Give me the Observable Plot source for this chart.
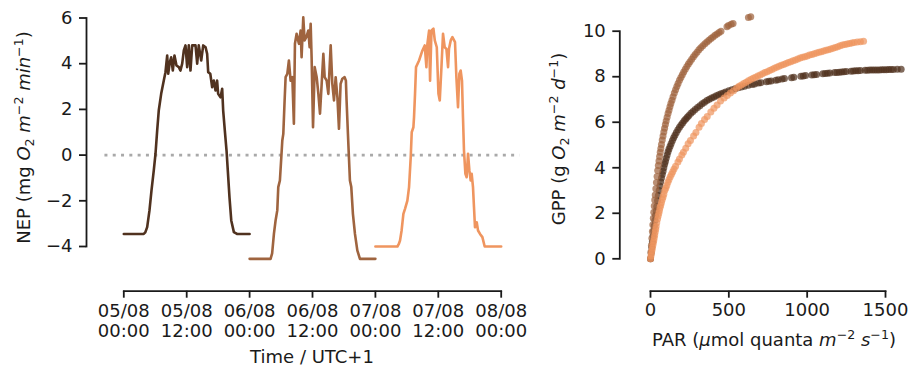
<!DOCTYPE html>
<html><head><meta charset="utf-8">
<script src="https://cdn.jsdelivr.net/npm/d3@7"></script>
<script src="https://cdn.jsdelivr.net/npm/@observablehq/plot@0.6"></script>
<style>
body{margin:0;background:#fff;}
#wrap{position:relative;width:918px;height:366px;font-family:"DejaVu Sans";}
#left{position:absolute;left:0;top:0;}
#right{position:absolute;left:530px;top:0;}
</style></head><body><div id="wrap"><div id="left"></div><div id="right"></div></div>
<script>
// ---------- data ----------
const dayStarts = ["2022-08-05T00:00Z", "2022-08-06T00:00Z", "2022-08-07T00:00Z"];
const seriesColors = ["#50321f", "#9f643f", "#ef955f"];
const timeTicks = ["2022-08-05T00:00Z","2022-08-05T12:00Z","2022-08-06T00:00Z","2022-08-06T12:00Z","2022-08-07T00:00Z","2022-08-07T12:00Z","2022-08-08T00:00Z"];
const timeTickLabels = ["05/08\n00:00","05/08\n12:00","06/08\n00:00","06/08\n12:00","07/08\n00:00","07/08\n12:00","08/08\n00:00"];
const timeLimits = ["2022-08-04T20:24Z", "2022-08-08T03:36Z"]; // axes limits (zero line span)
const nepTicks = [-4, -2, 0, 2, 4, 6];
const gppTicks = [0, 2, 4, 6, 8, 10];
const parTicks = [0, 500, 1000, 1500];

// NEP per day: [hour of day, NEP]
const nepDay1 = [[0,-3.45],[3.8,-3.45],[4.1,-3.38],[4.46,-3.15],[4.9,-2.42],[5.28,-1.55],[5.72,-0.67],[6.05,0.06],[6.37,1.08],[6.67,1.95],[7.13,2.68],[7.63,3.26],[7.95,3.63],[8.28,4.36],[8.47,3.56],[8.78,4.07],[9.04,4.28],[9.35,3.7],[9.67,4.36],[10.05,3.92],[10.5,3.85],[10.8,3.7],[11.14,4.0],[11.45,4.58],[11.77,4.8],[12.09,3.85],[12.4,4.8],[12.72,3.7],[13.05,4.8],[13.68,4.8],[14.0,4.0],[14.3,4.8],[14.77,4.14],[15.15,4.8],[15.6,4.72],[15.9,4.43],[16.1,3.63],[16.5,3.56],[16.86,2.97],[17.17,3.26],[17.5,2.83],[17.8,3.26],[18.0,2.68],[18.45,2.53],[18.77,2.9],[18.96,1.95],[19.27,1.08],[19.6,0.2],[19.84,-0.67],[20.16,-1.84],[20.5,-2.86],[21.0,-3.37],[21.6,-3.45],[24,-3.45]];
const nepDay2 = [[0,-4.54],[4.0,-4.54],[4.3,-4.3],[4.64,-3.45],[4.96,-2.86],[5.28,-2.42],[5.47,-1.4],[5.78,-1.11],[6.05,-0.09],[6.24,0.64],[6.43,0.93],[6.68,2.39],[6.87,3.41],[7.2,3.56],[7.5,4.14],[7.82,3.26],[8.15,3.41],[8.45,1.37],[8.65,4.87],[8.97,5.31],[9.41,4.87],[9.73,5.45],[9.92,4.28],[10.24,6.03],[10.49,5.02],[10.82,5.16],[11.2,5.45],[11.45,4.72],[11.65,5.75],[11.83,4.28],[12.1,1.22],[12.42,3.85],[12.8,3.41],[13.12,2.68],[13.43,1.81],[13.75,3.12],[14.07,4.43],[14.32,3.41],[14.7,3.26],[15.02,2.68],[15.47,4.8],[15.78,3.12],[16.1,2.39],[16.42,3.41],[16.75,2.53],[17.05,1.15],[17.36,3.12],[17.69,3.34],[18.13,3.41],[18.37,3.26],[18.5,2.39],[18.76,0.93],[18.95,-0.09],[19.14,-1.11],[19.4,-1.4],[19.71,-2.57],[20.1,-3.45],[20.55,-4.17],[21.05,-4.54],[24,-4.54]];
const nepDay3 = [[0,-4.0],[4.2,-4.0],[4.45,-3.9],[4.7,-3.74],[5.0,-3.3],[5.34,-2.57],[5.65,-2.35],[6.1,-1.99],[6.42,-1.4],[6.74,-0.09],[6.93,1.0],[7.25,1.22],[7.37,1.66],[7.56,2.68],[7.75,3.85],[8.33,4.14],[8.97,4.58],[9.41,4.8],[9.73,3.85],[9.92,4.87],[10.24,5.45],[10.43,3.26],[10.7,5.45],[11.07,5.53],[11.33,5.02],[11.71,4.72],[12.03,2.68],[12.28,2.39],[12.6,3.85],[12.9,5.31],[13.22,4.72],[13.55,4.65],[13.86,3.85],[14.04,4.65],[14.37,5.02],[14.69,5.16],[15.19,4.94],[15.45,3.41],[15.76,2.1],[16.02,3.56],[16.27,3.7],[16.52,3.26],[16.71,1.66],[16.9,0.2],[17.17,-0.82],[17.41,-0.97],[17.67,0.06],[17.93,-0.67],[18.18,-1.11],[18.37,-0.82],[18.62,-1.4],[18.81,-2.28],[19.0,-3.16],[19.33,-2.94],[19.58,-3.3],[19.96,-3.45],[20.41,-3.59],[20.85,-4.0],[24,-4.0]];

// GPP vs PAR: [PAR, GPP]
const gppDay1 = [[0,0],[4,0.25],[8,0.5],[12,0.75],[16,1.0],[20,1.22],[24,1.45],[28,1.68],[32,1.9],[36,2.1],[40,2.3],[45,2.55],[50,2.78],[55,3.0],[60,3.2],[65,3.38],[70,3.55],[75,3.7],[80,3.85],[85,4.0],[90,4.15],[95,4.28],[100,4.42],[106,4.56],[112,4.7],[118,4.82],[125,4.95],[132,5.07],[140,5.2],[148,5.32],[156,5.43],[165,5.55],[175,5.67],[185,5.78],[195,5.88],[205,5.97],[215,6.06],[225,6.14],[235,6.22],[245,6.3],[258,6.39],[271,6.47],[285,6.56],[300,6.65],[315,6.73],[330,6.81],[345,6.88],[360,6.95],[375,7.01],[390,7.06],[405,7.11],[420,7.16],[435,7.21],[450,7.25],[465,7.29],[480,7.33],[500,7.38],[520,7.43],[540,7.47],[560,7.51],[580,7.55],[600,7.58],[625,7.62],[650,7.66],[665,7.68],[690,7.72],[705,7.74],[740,7.78],[755,7.8],[770,7.81],[800,7.85],[815,7.87],[840,7.9],[855,7.92],[900,7.96],[915,7.98],[960,8.02],[975,8.03],[990,8.05],[1030,8.08],[1045,8.09],[1060,8.1],[1100,8.13],[1115,8.14],[1130,8.15],[1145,8.16],[1175,8.18],[1190,8.19],[1205,8.2],[1220,8.21],[1235,8.22],[1250,8.23],[1280,8.24],[1295,8.25],[1310,8.26],[1325,8.26],[1340,8.27],[1370,8.28],[1385,8.28],[1400,8.29],[1415,8.29],[1430,8.3],[1445,8.3],[1460,8.3],[1475,8.31],[1490,8.31],[1505,8.31],[1520,8.32],[1535,8.32],[1550,8.32],[1575,8.33],[1600,8.33]];
const gppDay2 = [[0,0],[3,0.3],[6,0.6],[9,0.9],[12,1.2],[15,1.5],[18,1.78],[21,2.05],[24,2.32],[27,2.58],[30,2.8],[34,3.08],[38,3.35],[42,3.62],[46,3.88],[50,4.1],[54,4.3],[58,4.5],[62,4.68],[66,4.85],[70,5.02],[75,5.22],[80,5.4],[85,5.57],[90,5.74],[95,5.9],[100,6.05],[106,6.22],[112,6.38],[118,6.53],[124,6.68],[130,6.82],[137,6.97],[144,7.12],[152,7.28],[160,7.43],[168,7.57],[176,7.7],[185,7.84],[194,7.97],[203,8.09],[212,8.21],[222,8.33],[232,8.45],[242,8.56],[252,8.66],[263,8.77],[274,8.88],[285,8.98],[297,9.08],[309,9.18],[321,9.27],[334,9.36],[347,9.45],[360,9.53],[373,9.6],[386,9.68],[399,9.75],[412,9.82],[425,9.88],[438,9.94],[450,10.0],[488,10.2],[498,10.25],[515,10.3],[527,10.34],[625,10.6],[640,10.64]];
const gppDay3 = [[0,0],[3,0.12],[6,0.24],[9,0.36],[12,0.48],[15,0.6],[18,0.7],[21,0.8],[24,0.92],[27,1.05],[30,1.18],[33,1.3],[36,1.42],[40,1.58],[45,1.75],[49,1.88],[53,2.0],[57,2.12],[61,2.25],[65,2.35],[70,2.47],[75,2.6],[80,2.72],[85,2.84],[91,3.0],[97,3.1],[104,3.22],[111,3.36],[118,3.48],[126,3.6],[134,3.72],[142,3.83],[150,3.95],[160,4.07],[175,4.25],[185,4.38],[200,4.56],[210,4.68],[225,4.86],[240,5.05],[255,5.2],[275,5.4],[290,5.55],[310,5.78],[325,5.94],[345,6.12],[362,6.25],[385,6.45],[405,6.62],[425,6.76],[447,6.93],[470,7.07],[490,7.18],[510,7.28],[530,7.38],[550,7.5],[565,7.58],[580,7.64],[595,7.7],[610,7.76],[625,7.82],[640,7.88],[655,7.93],[670,7.98],[685,8.03],[700,8.08],[715,8.13],[730,8.18],[745,8.22],[760,8.27],[775,8.32],[790,8.37],[805,8.42],[820,8.46],[835,8.5],[850,8.54],[865,8.58],[880,8.62],[895,8.66],[910,8.7],[925,8.74],[940,8.78],[955,8.82],[970,8.85],[985,8.88],[1000,8.91],[1015,8.95],[1030,8.98],[1045,9.01],[1060,9.04],[1075,9.07],[1090,9.1],[1105,9.13],[1120,9.16],[1135,9.19],[1150,9.22],[1165,9.25],[1180,9.28],[1195,9.32],[1210,9.36],[1225,9.39],[1240,9.42],[1255,9.44],[1270,9.46],[1285,9.48],[1300,9.5],[1320,9.52],[1340,9.54],[1360,9.56]];

// ---------- build ----------
const FS = 18, INK = "#1a1a1a", SPINE = 1.8;
const asDate = s => new Date(s);
const toRows = (pairs, k) => pairs.map(([h, v]) => ({t: new Date(+asDate(dayStarts[k]) + h * 3600e3), v}));
const nepRows = [nepDay1, nepDay2, nepDay3].map(toRows);
const gppSets = [gppDay1, gppDay2, gppDay3];
const minus = d => (d < 0 ? "\u2212" + Math.abs(d) : String(d));
const tickDates = timeTicks.map(asDate);
const baseStyle = {fontFamily: "DejaVu Sans", fontSize: FS + "px", background: "transparent", color: INK, overflow: "visible"};

const leftPlot = Plot.plot({
  width: 530, height: 366,
  marginLeft: 86, marginRight: 29.3, marginTop: 17.5, marginBottom: 75.3,
  style: baseStyle,
  x: {type: "utc", domain: [tickDates[0], tickDates[tickDates.length - 1]], insetLeft: 37.3},
  y: {domain: [-4, 6], insetBottom: 44.7},
  marks: [
    Plot.ruleY([0], {x1: asDate(timeLimits[0]), x2: asDate(timeLimits[1]), stroke: "#a9a9a9", strokeWidth: 2.6, strokeDasharray: "3 5.3"}),
    ...nepRows.map((rows, k) => Plot.line(rows, {x: "t", y: "v", stroke: seriesColors[k], strokeWidth: 2.6, strokeLinejoin: "round"})),
    Plot.frame({anchor: "left", insetBottom: 44.7, stroke: INK, strokeWidth: SPINE}),
    Plot.frame({anchor: "bottom", insetLeft: 37.3, stroke: INK, strokeWidth: SPINE}),
    Plot.axisY({ticks: nepTicks, tickSize: 7, tickPadding: 7, tickFormat: minus, label: null, strokeWidth: SPINE, stroke: INK, fill: INK}),
    Plot.axisX({ticks: tickDates, tickSize: 7, tickPadding: 5, lineHeight: 1.1,
      tickFormat: d => timeTickLabels[tickDates.findIndex(t => +t === +d)], label: null, strokeWidth: SPINE, stroke: INK, fill: INK})
  ]
});

const rightPlot = Plot.plot({
  width: 388, height: 366,
  marginLeft: 89.3, marginRight: 33, marginTop: 30.7, marginBottom: 75.3,
  style: baseStyle,
  x: {domain: [0, 1500], insetLeft: 30.7},
  y: {domain: [0, 10], insetBottom: 32.4},
  marks: [
    ...gppSets.map((pts, k) => Plot.dot(pts, {x: d => d[0], y: d => d[1], r: 3.5, fill: seriesColors[k], fillOpacity: 0.72, stroke: "none"})),
    Plot.frame({anchor: "left", insetBottom: 32.4, stroke: INK, strokeWidth: SPINE}),
    Plot.frame({anchor: "bottom", insetLeft: 30.7, stroke: INK, strokeWidth: SPINE}),
    Plot.axisY({ticks: gppTicks, tickSize: 7, tickPadding: 7, tickFormat: d => String(d), label: null, strokeWidth: SPINE, stroke: INK, fill: INK}),
    Plot.axisX({ticks: parTicks, tickSize: 7, tickPadding: 5, tickFormat: d => String(d), label: null, strokeWidth: SPINE, stroke: INK, fill: INK})
  ]
});

document.getElementById("left").append(leftPlot);
document.getElementById("right").append(rightPlot);

// rich-text axis titles (italic, sub- and superscripts)
function richLabel(svg, parts, x, y, rotate) {
  const t = d3.select(svg).append("text")
    .attr("transform", `translate(${x},${y})` + (rotate ? " rotate(-90)" : ""))
    .attr("text-anchor", "middle").attr("fill", INK)
    .style("font-family", "DejaVu Sans").style("font-size", FS + "px").style("white-space", "pre");
  const small = FS * 0.7;
  const shift = {sup: -7.2, sub: 3.6};
  let cur = 0;
  parts.forEach(([s, kind]) => {
    const target = shift[kind] || 0;
    const ts = t.append("tspan").text(s);
    if (target !== cur) ts.attr("dy", target - cur);
    cur = target;
    if (kind === "i") ts.style("font-style", "italic");
    if (kind === "sup" || kind === "sub") ts.style("font-size", small + "px");
  });
}
richLabel(leftPlot, [["NEP (mg "], ["O", "i"], ["2", "sub"], [" "], ["m", "i"], ["\u22122", "sup"], [" "], ["min", "i"], ["\u22121", "sup"], [")"]], 30, 137.5, true);
richLabel(leftPlot, [["Time / UTC+1"]], 312, 363, false);
richLabel(rightPlot, [["GPP (g "], ["O", "i"], ["2", "sub"], [" "], ["m", "i"], ["\u22122", "sup"], [" "], ["d", "i"], ["\u22121", "sup"], [")"]], 35, 139, true);
richLabel(rightPlot, [["PAR ("], ["\u03bc", "i"], ["mol quanta "], ["m", "i"], ["\u22122", "sup"], [" "], ["s", "i"], ["\u22121", "sup"], [")"]], 244, 346, false);
</script></body></html>
